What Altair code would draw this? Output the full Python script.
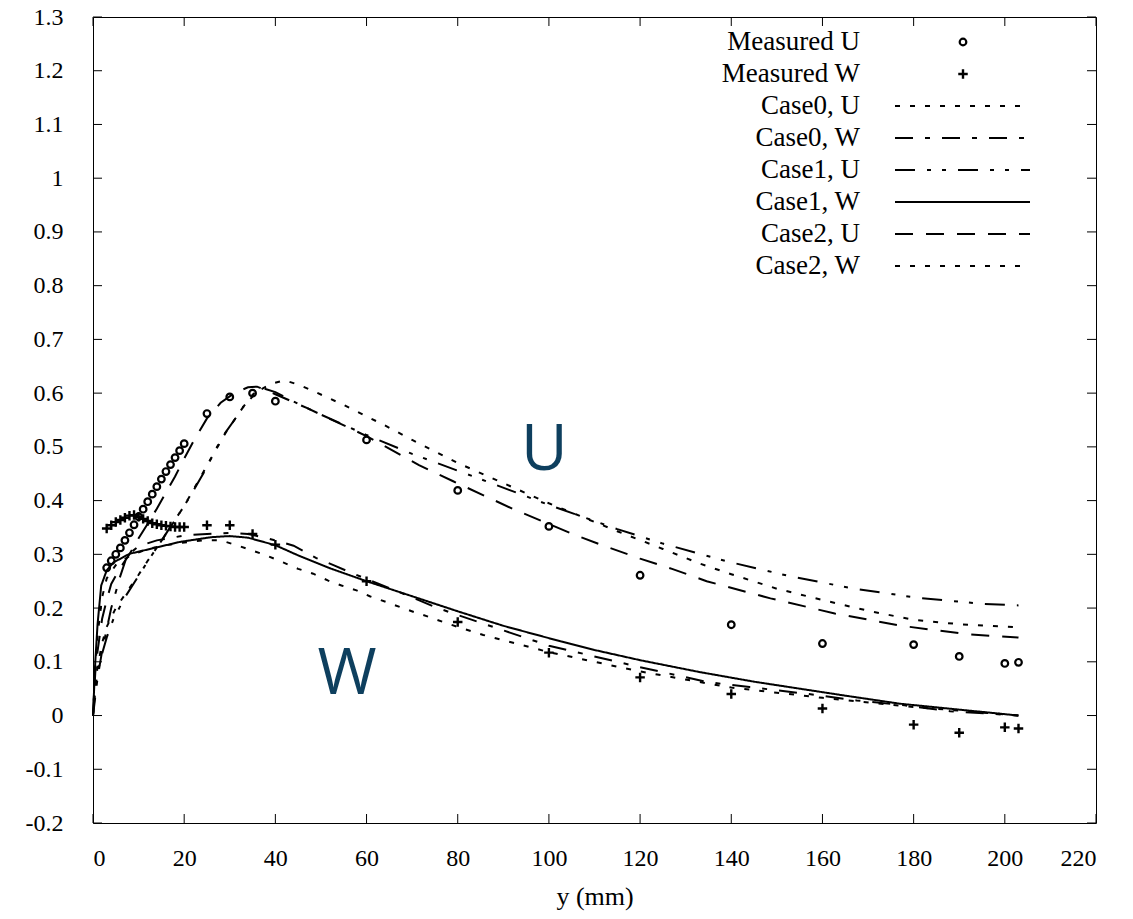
import altair as alt
import pandas as pd

# ---------------- data ----------------
x_ticks = [0, 20, 40, 60, 80, 100, 120, 140, 160, 180, 200, 220]
y_ticks = [-0.2, -0.1, 0, 0.1, 0.2, 0.3, 0.4, 0.5, 0.6, 0.7, 0.8, 0.9, 1.0, 1.1, 1.2, 1.3]

mu_x = [3, 4, 5, 6, 7, 8, 9, 10, 11, 12, 13, 14, 15, 16, 17, 18, 19, 20,
        25, 30, 35, 40, 60, 80, 100, 120, 140, 160, 180, 190, 200, 203]
mu_y = [0.275, 0.288, 0.300, 0.312, 0.326, 0.340, 0.355, 0.370, 0.384, 0.398, 0.412,
        0.426, 0.440, 0.454, 0.467, 0.480, 0.493, 0.506,
        0.562, 0.593, 0.600, 0.585, 0.513, 0.419, 0.352, 0.261, 0.169, 0.134,
        0.132, 0.110, 0.097, 0.099]

mw_x = [3, 4, 5, 6, 7, 8, 9, 10, 11, 12, 13, 14, 15, 16, 17, 18, 19, 20,
        25, 30, 35, 40, 60, 80, 100, 120, 140, 160, 180, 190, 200, 203]
mw_y = [0.348, 0.354, 0.360, 0.364, 0.368, 0.372, 0.373, 0.370, 0.366, 0.362, 0.358,
        0.356, 0.354, 0.353, 0.352, 0.351, 0.351, 0.351,
        0.354, 0.354, 0.338, 0.318, 0.250, 0.174, 0.117, 0.071, 0.040, 0.013,
        -0.017, -0.032, -0.022, -0.024]

c0u_x = [0, 0.5, 1, 2, 3, 5, 7, 10, 12, 15, 20, 25, 29, 33, 36, 39, 42, 45, 48, 55, 64,
         70, 80, 88, 100, 115, 125, 133, 140, 150, 160, 170, 180, 190, 203]
c0u_y = [0, 0.06, 0.09, 0.135, 0.165, 0.2, 0.225, 0.262, 0.288, 0.325, 0.39, 0.465,
         0.525, 0.575, 0.603, 0.617, 0.624, 0.616, 0.605, 0.578, 0.54, 0.513, 0.47,
         0.44, 0.395, 0.343, 0.31, 0.283, 0.263, 0.236, 0.215, 0.195, 0.178, 0.17, 0.164]

c0w_x = [0, 1, 2, 4, 6, 7.5, 10, 14, 20, 25, 30, 34, 40, 44, 49, 53, 56, 60, 70, 75, 80,
         100, 120, 135, 144, 157, 167.5, 178, 188, 203]
c0w_y = [0, 0.07, 0.12, 0.2, 0.26, 0.298, 0.315, 0.326, 0.335, 0.338, 0.34, 0.338,
         0.326, 0.316, 0.293, 0.279, 0.268, 0.254, 0.22, 0.202, 0.187, 0.13, 0.09,
         0.062, 0.053, 0.04, 0.028, 0.019, 0.008, 0.0]

c1u_x = [0, 0.5, 1, 2, 3, 4.5, 7, 10, 12, 15, 17.5, 20, 22, 24.5, 27, 29, 31, 33, 35, 37,
         40, 45, 50, 60, 70, 85, 100, 115, 125, 139, 153, 167, 181, 195, 203]
c1u_y = [0, 0.05, 0.08, 0.115, 0.145, 0.18, 0.22, 0.26, 0.287, 0.325, 0.358, 0.39,
         0.418, 0.455, 0.497, 0.526, 0.55, 0.575, 0.597, 0.61, 0.602, 0.58, 0.56,
         0.522, 0.487, 0.44, 0.392, 0.347, 0.32, 0.287, 0.259, 0.236, 0.219, 0.208, 0.205]

c1w_x = [0, 0.5, 1, 1.8, 3, 4.5, 8, 14, 19, 26, 30, 34, 40, 45, 52, 60, 75, 80, 90, 100,
         110, 120, 133, 145, 155, 165, 177, 190, 203]
c1w_y = [0, 0.1, 0.17, 0.242, 0.27, 0.285, 0.301, 0.313, 0.323, 0.332, 0.334, 0.331,
         0.317, 0.298, 0.274, 0.25, 0.208, 0.194, 0.167, 0.144, 0.122, 0.103, 0.081,
         0.063, 0.05, 0.037, 0.022, 0.011, 0.0]

c2u_x = [0, 0.5, 1, 2, 3, 4, 6, 8, 10, 12, 14, 16, 18, 20, 22, 25, 28, 31, 34, 36, 40, 47,
         60, 71.5, 79, 92, 99, 106, 113, 120, 127, 134.6, 148.6, 162.7, 177.3, 192, 203]
c2u_y = [0, 0.08, 0.12, 0.18, 0.215, 0.245, 0.275, 0.3, 0.33, 0.357, 0.385, 0.415,
         0.445, 0.478, 0.51, 0.553, 0.582, 0.6, 0.611, 0.612, 0.598, 0.572, 0.52,
         0.466, 0.436, 0.385, 0.36, 0.335, 0.313, 0.292, 0.273, 0.25, 0.218, 0.19,
         0.167, 0.151, 0.145]

c2w_x = [0, 0.5, 1, 2, 3, 5, 8, 12, 18, 24, 28, 31.5, 35, 38, 41.7, 45, 48.3, 51.6, 54.5,
         57.8, 60.7, 64.4, 67.3, 70.6, 73.9, 76.8, 80, 85.6, 100, 120, 140, 160, 180, 203]
c2w_y = [0, 0.09, 0.15, 0.22, 0.255, 0.28, 0.297, 0.31, 0.32, 0.326, 0.326, 0.317,
         0.307, 0.298, 0.285, 0.273, 0.264, 0.251, 0.242, 0.233, 0.222, 0.211, 0.202,
         0.192, 0.183, 0.174, 0.165, 0.15, 0.118, 0.082, 0.052, 0.033, 0.016, 0.0]

series_names = ["Case0, U", "Case0, W", "Case1, U", "Case1, W", "Case2, U", "Case2, W"]
series_xy = [(c0u_x, c0u_y), (c0w_x, c0w_y), (c1u_x, c1u_y),
             (c1w_x, c1w_y), (c2u_x, c2u_y), (c2w_x, c2w_y)]
legend_labels = ["Measured U", "Measured W"] + series_names

curve_labels = ["U", "W"]
curve_label_x = [99, 55.7]
curve_label_y = [0.493, 0.075]

# ---------------- styling ----------------
W, H = 1003, 806
XMAX, YMIN, YMAX = 220, -0.2, 1.3
dashes = [[5, 10], [18, 12, 5, 12], [20, 12, 4, 11, 4, 12], [1, 0], [18, 13], [5, 10]]
SERIF = "Liberation Serif, Times New Roman, Times, serif"
FS = 24

rows = []
for name, (xs, ys) in zip(series_names, series_xy):
    for xv, yv in zip(xs, ys):
        rows.append({"series": name, "x": xv, "y": yv})
lines_df = pd.DataFrame(rows)
mu_df = pd.DataFrame({"x": mu_x, "y": mu_y})
mw_df = pd.DataFrame({"x": mw_x, "y": mw_y})
lab_df = pd.DataFrame({"t": curve_labels, "x": curve_label_x, "y": curve_label_y})

xscale = alt.Scale(domain=[0, XMAX], nice=False, zero=False)
yscale = alt.Scale(domain=[YMIN, YMAX], nice=False, zero=False)
dash_scale = alt.Scale(domain=series_names, range=dashes)

minus_fix = "replace(format(datum.value, '~g'), '\u2212', '-')"

x_axis = alt.Axis(values=x_ticks, title="y (mm)", ticks=False, domain=False,
                  grid=False, labelPadding=23, titlePadding=13,
                  labelFont=SERIF, labelFontSize=FS, labelColor="black",
                  titleFont=SERIF, titleFontSize=26, titleFontWeight="normal",
                  titleColor="black", labelExpr=minus_fix)
y_axis = alt.Axis(values=y_ticks, title=None, ticks=False, domain=False,
                  grid=False, labelPadding=30,
                  labelFont=SERIF, labelFontSize=FS, labelColor="black",
                  labelExpr=minus_fix)


def XE(field):
    return alt.X(field, scale=xscale, axis=x_axis)


def YE(field):
    return alt.Y(field, scale=yscale, axis=y_axis)


lines = alt.Chart(lines_df).mark_line(color="black", strokeWidth=2).encode(
    x=XE("x:Q"), y=YE("y:Q"),
    strokeDash=alt.StrokeDash("series:N", scale=dash_scale, legend=None),
)

PT_SIZE = 44
circ = alt.Chart(mu_df).mark_point(shape="circle", size=PT_SIZE, strokeWidth=2.2,
                                   color="black", filled=False, opacity=1).encode(
    x=XE("x:Q"), y=YE("y:Q"))

plus_path = "M-1,0L1,0M0,-1L0,1"
plus = alt.Chart(mw_df).mark_point(shape=plus_path, size=90, strokeWidth=2.4,
                                   color="black", filled=False, opacity=1).encode(
    x=XE("x:Q"), y=YE("y:Q"))

labels = alt.Chart(lab_df).mark_text(font="Open Sans", fontSize=64, color="#0e3f5e",
                                     align="center", baseline="middle").encode(
    x=XE("x:Q"), y=YE("y:Q"), text="t:N")

# ---------------- key (top right) ----------------
px2x = XMAX / W
px2y = (YMAX - YMIN) / H
leg_df = pd.DataFrame({"label": legend_labels, "row": list(range(len(legend_labels)))})
leg_base = alt.Chart(leg_df).transform_calculate(
    ly=f"{YMAX} - (25 + datum.row * 32) * {px2y}",
    lx=f"{767 * px2x}",
    sx1=f"{802 * px2x}",
    sx2=f"{937 * px2x}",
    mx=f"{870 * px2x}",
)
leg_text = leg_base.mark_text(font=SERIF, fontSize=27, align="right",
                              baseline="middle", color="black").encode(
    x=XE("lx:Q"), y=YE("ly:Q"), text="label:N")
leg_lines = leg_base.transform_filter("datum.row >= 2").mark_rule(
    color="black", strokeWidth=2).encode(
    x=XE("sx1:Q"), x2="sx2:Q", y=YE("ly:Q"),
    strokeDash=alt.StrokeDash("label:N", scale=dash_scale, legend=None))
leg_circ = leg_base.transform_filter("datum.row == 0").mark_point(
    shape="circle", size=PT_SIZE, strokeWidth=2.2, color="black", filled=False,
    opacity=1).encode(x=XE("mx:Q"), y=YE("ly:Q"))
leg_plus = leg_base.transform_filter("datum.row == 1").mark_point(
    shape=plus_path, size=90, strokeWidth=2.4, color="black", filled=False,
    opacity=1).encode(x=XE("mx:Q"), y=YE("ly:Q"))

# ---------------- inward ticks on all four sides ----------------
xt_df = pd.DataFrame({"x": x_ticks})
yt_df = pd.DataFrame({"y": y_ticks})
TL = 9
xt_bot = alt.Chart(xt_df).mark_rule(color="black", strokeWidth=1).encode(
    x=XE("x:Q"), y=alt.value(H), y2=alt.value(H - TL))
xt_top = alt.Chart(xt_df).mark_rule(color="black", strokeWidth=1).encode(
    x=XE("x:Q"), y=alt.value(0), y2=alt.value(TL))
yt_left = alt.Chart(yt_df).mark_rule(color="black", strokeWidth=1).encode(
    y=YE("y:Q"), x=alt.value(0), x2=alt.value(TL))
yt_right = alt.Chart(yt_df).mark_rule(color="black", strokeWidth=1).encode(
    y=YE("y:Q"), x=alt.value(W), x2=alt.value(W - TL))

chart = alt.layer(
    lines, circ, plus, labels, xt_bot, xt_top, yt_left, yt_right,
    leg_text, leg_lines, leg_circ, leg_plus,
).properties(
    width=W, height=H,
    autosize=alt.AutoSizeParams(type="none"),
    padding={"left": 85, "top": 9, "right": 29, "bottom": 88},
    background="white",
).configure(
    font=SERIF,
    style={"guide-label": {"font": SERIF}, "guide-title": {"font": SERIF}},
).configure_view(
    stroke="black", strokeWidth=1,
)

chart.save("out.html", embed_options={"renderer": "svg", "actions": False})
